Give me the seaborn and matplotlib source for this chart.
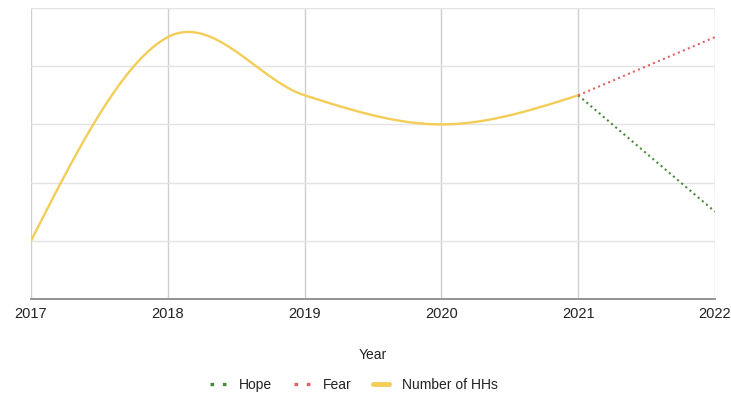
import numpy as np
import pandas as pd
import matplotlib
matplotlib.use("Agg")
import matplotlib.pyplot as plt
from matplotlib.lines import Line2D
import seaborn as sns

# Data
years = [2017, 2018, 2019, 2020, 2021]
households = [1.0, 4.5, 3.5, 3.0, 3.5]
outlook_years = [2021, 2022]
hope = [3.5, 1.5]
fear = [3.5, 4.5]

COL_HH = "#f3cd57"
COL_HOPE = "#4e8a3e"
COL_FEAR = "#e06666"


def smooth_curve(xs, ys, samples=40):
    """Cubic through every point: centred slopes inside, natural slopes at the ends."""
    xs = np.asarray(xs, float)
    ys = np.asarray(ys, float)
    n = len(xs)
    m = np.empty(n)
    for i in range(1, n - 1):
        m[i] = (ys[i + 1] - ys[i - 1]) / (xs[i + 1] - xs[i - 1])
    m[0] = 1.5 * (ys[1] - ys[0]) / (xs[1] - xs[0]) - 0.5 * m[1]
    m[-1] = 1.5 * (ys[-1] - ys[-2]) / (xs[-1] - xs[-2]) - 0.5 * m[-2]
    out_x, out_y = [], []
    t = np.linspace(0, 1, samples, endpoint=False)
    for i in range(n - 1):
        h = xs[i + 1] - xs[i]
        h00 = 2 * t**3 - 3 * t**2 + 1
        h10 = t**3 - 2 * t**2 + t
        h01 = -2 * t**3 + 3 * t**2
        h11 = t**3 - t**2
        out_x.extend(xs[i] + t * h)
        out_y.extend(h00 * ys[i] + h10 * h * m[i] + h01 * ys[i + 1] + h11 * h * m[i + 1])
    out_x.append(xs[-1])
    out_y.append(ys[-1])
    return np.array(out_x), np.array(out_y)


sns.set_theme(style="white")
plt.rcParams["font.family"] = ["Liberation Sans", "DejaVu Sans"]

fig = plt.figure(figsize=(7.31, 3.96), dpi=100)
ax = fig.add_axes([31 / 731, 1 - 299 / 396, (715 - 31) / 731, (299 - 8) / 396])

sx, sy = smooth_curve(years, households)
hh_df = pd.DataFrame({"Year": sx, "Value": sy})
out_df = pd.DataFrame({"Year": outlook_years, "Hope": hope, "Fear": fear})

sns.lineplot(data=hh_df, x="Year", y="Value", ax=ax, color=COL_HH, lw=1.7,
             sort=False, estimator=None, zorder=3)
sns.lineplot(data=out_df, x="Year", y="Hope", ax=ax, color=COL_HOPE, lw=1.5,
             linestyle=(0, (1, 1.6)), zorder=4)
sns.lineplot(data=out_df, x="Year", y="Fear", ax=ax, color=COL_FEAR, lw=1.5,
             linestyle=(0, (1, 1.6)), zorder=4)

ax.set_xlim(2017, 2022)
ax.set_ylim(0, 5)
ax.set_xticks(range(2017, 2023))
ax.set_xticklabels([str(y) for y in range(2017, 2023)])
ax.set_yticks(np.arange(0, 6, 1))
ax.set_yticklabels([])

ax.grid(True, axis="x", color="#cfcfcf", lw=1.0)
ax.grid(True, axis="y", color="#e3e3e3", lw=1.0)
for s in ["top", "right", "left"]:
    ax.spines[s].set_visible(False)
ax.spines["bottom"].set_color("#8a8a8a")
ax.spines["bottom"].set_linewidth(1.3)
ax.spines["bottom"].set_zorder(5)

ax.tick_params(axis="x", length=0, pad=6, labelsize=10.5, labelcolor="#222222")
ax.tick_params(axis="y", length=0)
ax.set_xlabel("Year", fontsize=10, color="#222222", labelpad=19)
ax.set_ylabel("")

handles = [
    Line2D([], [], color=COL_HOPE, lw=2.4, linestyle=(0, (1.1, 2.6))),
    Line2D([], [], color=COL_FEAR, lw=2.4, linestyle=(0, (1.1, 2.6))),
    Line2D([], [], color=COL_HH, lw=3.5),
]
fig.legend(handles, ["Hope", "Fear", "Number of HHs"], loc="center",
           bbox_to_anchor=(354 / 731, 1 - 385 / 396), ncol=3, frameon=False,
           fontsize=10, handlelength=1.15, handletextpad=0.9, columnspacing=1.6,
           labelcolor="#222222")

fig.savefig("out.png", dpi=100, facecolor="white")
